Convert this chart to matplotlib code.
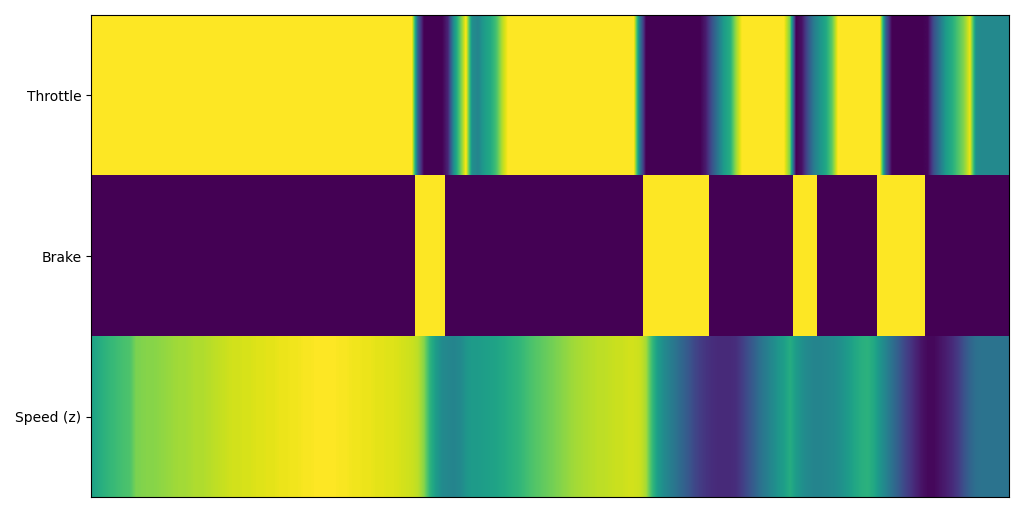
import matplotlib
matplotlib.use("Agg")
import matplotlib.pyplot as plt
import numpy as np

row_labels = ["Throttle", "Brake", "Speed (z)"]

# one value per time step (153 steps), already scaled to 0..1
throttle = [1.0] * 54 + [
	0.3, 0.0, 0.0, 0.0, 0.0, 0.1, 0.5, 0.75, 1.0, 0.5,
	0.45, 0.55, 0.6, 0.7, 0.88] + [1.0] * 22 + [
	0.4, 0.0, 0.0, 0.0, 0.0, 0.0, 0.0, 0.0, 0.0, 0.0,
	0.0, 0.08, 0.25, 0.4, 0.55, 0.62, 0.85,
	1.0, 1.0, 1.0, 1.0, 1.0, 1.0, 1.0, 1.0,
	0.8, 0.0, 0.05, 0.25, 0.42, 0.52, 0.6, 0.75,
	1.0, 1.0, 1.0, 1.0, 1.0, 1.0, 1.0, 1.0,
	0.3, 0.0, 0.0, 0.0, 0.0, 0.0, 0.0, 0.02,
	0.25, 0.4, 0.55, 0.62, 0.72, 0.82, 0.97, 0.5,
	0.47, 0.47, 0.47, 0.47, 0.47]

brake = [0] * 54 + [1] * 5 + [0] * 33 + [1] * 11 + [0] * 14 + [1] * 4 + [0] * 10 + [1] * 8 + [0] * 14

speed = [
	0.58, 0.62, 0.65, 0.67, 0.69, 0.71, 0.72, 0.8, 0.81, 0.82,
	0.82, 0.83, 0.84, 0.85, 0.86, 0.86, 0.87, 0.88, 0.88, 0.89,
	0.9, 0.91, 0.92, 0.93, 0.93, 0.94, 0.94, 0.95, 0.95, 0.96,
	0.96, 0.97, 0.97, 0.98, 0.98, 0.99, 0.99, 1.0, 1.0, 1.0,
	1.0, 0.99, 0.99, 0.98, 0.98, 0.97, 0.97, 0.96, 0.96, 0.95,
	0.95, 0.94, 0.93, 0.92, 0.9, 0.82, 0.65, 0.55, 0.48, 0.46,
	0.45, 0.47, 0.52, 0.55, 0.55, 0.56, 0.57, 0.58, 0.6, 0.62,
	0.64, 0.66, 0.69, 0.72, 0.74, 0.76, 0.78, 0.8, 0.82, 0.84,
	0.86, 0.87, 0.88, 0.89, 0.9, 0.9, 0.91, 0.92, 0.92, 0.93,
	0.93, 0.92, 0.87, 0.68, 0.55, 0.48, 0.43, 0.38, 0.33, 0.28,
	0.22, 0.18, 0.15, 0.13, 0.12, 0.12, 0.12, 0.13, 0.18, 0.24,
	0.3, 0.37, 0.42, 0.47, 0.52, 0.56, 0.62, 0.55, 0.5, 0.47,
	0.45, 0.45, 0.46, 0.47, 0.49, 0.52, 0.56, 0.6, 0.63, 0.64,
	0.6, 0.52, 0.45, 0.37, 0.3, 0.22, 0.16, 0.1, 0.05, 0.02,
	0.02, 0.05, 0.08, 0.12, 0.17, 0.25, 0.32, 0.37, 0.38, 0.38,
	0.38, 0.38, 0.38]

rows = [throttle, brake, speed]
# brake is on/off so keep hard edges, others are smoothed
interp = ["bilinear", "nearest", "bilinear"]

n = len(throttle)

fig = plt.figure(figsize=(10.24, 5.12), dpi=100)
ax = fig.add_axes([91/1024, 15/512, 918/1024, 482/512])
for r, vals in enumerate(rows):
	ax.imshow(np.array([vals], dtype=float), aspect="auto", cmap="viridis", vmin=0, vmax=1,
		interpolation=interp[r], interpolation_stage="data",
		extent=(-0.5, n - 0.5, r + 0.5, r - 0.5))
ax.set_xlim(-0.5, n - 0.5)
ax.set_ylim(2.5, -0.5)
ax.set_yticks(range(len(row_labels)))
ax.set_yticklabels(row_labels)
ax.set_xticks([])

fig.savefig("out.png", dpi=100)
